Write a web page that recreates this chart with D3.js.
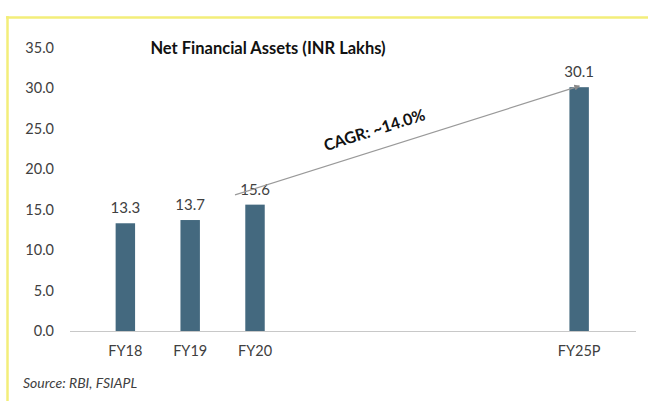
<!DOCTYPE html>
<html><head><meta charset="utf-8">
<script src="https://cdn.jsdelivr.net/npm/d3@7"></script>
<style>
html,body{margin:0;padding:0;background:#fff;}
svg{display:block;}
</style></head>
<body>
<svg id="c" width="648" height="401"></svg>
<script>
// ---- data ----
const categories = ["FY18","FY19","FY20","FY21","FY22","FY23","FY24","FY25P"];
const shownLabels = ["FY18","FY19","FY20","FY25P"];
const values = [13.3, 13.7, 15.6, null, null, null, null, 30.1];
const yTicks = [0,5,10,15,20,25,30,35];
const title = "Net Financial Assets (INR Lakhs)";
const cagrLabel = "CAGR: ~14.0%";
const cagrFrom = {cat:"FY20", value:16.8};
const cagrTo = {cat:"FY25P", value:30.1};
const source = "Source: RBI, FSIAPL";

const svg = d3.select("#c");
const font = "Lato, 'Open Sans', sans-serif";
const textCol = "#404040";
const barCol = "#44697f";

// frame
svg.append("line").attr("x1",6).attr("x2",648).attr("y1",17.5).attr("y2",17.5)
  .attr("stroke","#f3ee7a").attr("stroke-width",2.5);
svg.append("line").attr("x1",7.5).attr("x2",7.5).attr("y1",16).attr("y2",401)
  .attr("stroke","#f3ee7a").attr("stroke-width",2.5);

const x = d3.scaleBand().domain(categories).range([70.25,634.25]).padding(0.70);
const y = d3.scaleLinear().domain([0,35]).range([331,47.5]);

// y axis labels
const yAxis = d3.axisLeft(y).tickValues(yTicks).tickFormat(d3.format(".1f")).tickSize(0).tickPadding(0);
const ya = svg.append("g").attr("transform","translate(54,0)").call(yAxis);
ya.select(".domain").remove();
ya.selectAll("text").attr("font-family",font).attr("font-size",14.5).attr("fill",textCol);

// baseline
svg.append("line").attr("x1",70).attr("x2",636).attr("y1",y(0)+0.5).attr("y2",y(0)+0.5)
  .attr("stroke","#c8c8c8").attr("stroke-width",1);

// x axis labels
const xAxis = d3.axisBottom(x).tickValues(shownLabels).tickSize(0).tickPadding(0);
const xa = svg.append("g").attr("transform",`translate(0,${y(0)+15})`).call(xAxis);
xa.select(".domain").remove();
xa.selectAll("text").attr("font-family",font).attr("font-size",14.5).attr("fill",textCol);

// bars
const data = categories.map((c,i)=>({c, v:values[i]})).filter(d=>d.v!=null);
svg.append("g").selectAll("rect").data(data).join("rect")
  .attr("x",d=>x(d.c)).attr("width",x.bandwidth())
  .attr("y",d=>y(d.v)).attr("height",d=>y(0)-y(d.v))
  .attr("fill",barCol);

// value labels
svg.append("g").selectAll("text").data(data).join("text")
  .attr("x",d=>x(d.c)+x.bandwidth()/2).attr("y",d=>y(d.v)-10)
  .attr("text-anchor","middle").attr("font-family",font).attr("font-size",15)
  .attr("fill",textCol).text(d=>d.v.toFixed(1));

// CAGR arrow
svg.append("defs").append("marker").attr("id","arr").attr("viewBox","0 0 10 10")
  .attr("refX",8).attr("refY",5).attr("markerWidth",5).attr("markerHeight",5)
  .attr("orient","auto").append("path").attr("d","M0,0L10,5L0,10z").attr("fill","#8a8a8a");
const x1 = x(cagrFrom.cat)+x.bandwidth()/2-20, y1 = y(cagrFrom.value);
const x2 = x(cagrTo.cat)+x.bandwidth()/2, y2 = y(cagrTo.value)-1;
svg.append("line").attr("x1",x1).attr("y1",y1).attr("x2",x2).attr("y2",y2)
  .attr("stroke","#9a9a9a").attr("stroke-width",1.2).attr("marker-end","url(#arr)");
const ang = Math.atan2(y2-y1,x2-x1)*180/Math.PI;
const mx = x1+(x2-x1)*0.41, my = y1+(y2-y1)*0.41 - 15;
svg.append("text").attr("transform",`translate(${mx},${my}) rotate(${ang})`)
  .attr("text-anchor","middle").attr("font-family",font).attr("font-weight","bold")
  .attr("font-size",16).attr("fill","#111").text(cagrLabel);

// title
svg.append("text").attr("x",268).attr("y",54).attr("text-anchor","middle")
  .attr("font-family",font).attr("font-weight","bold").attr("font-size",16.5)
  .attr("fill","#111").text(title);

// source
svg.append("text").attr("x",23).attr("y",388).attr("font-family",font)
  .attr("font-style","italic").attr("font-size",14).attr("fill",textCol).text(source);
</script>
</body></html>
